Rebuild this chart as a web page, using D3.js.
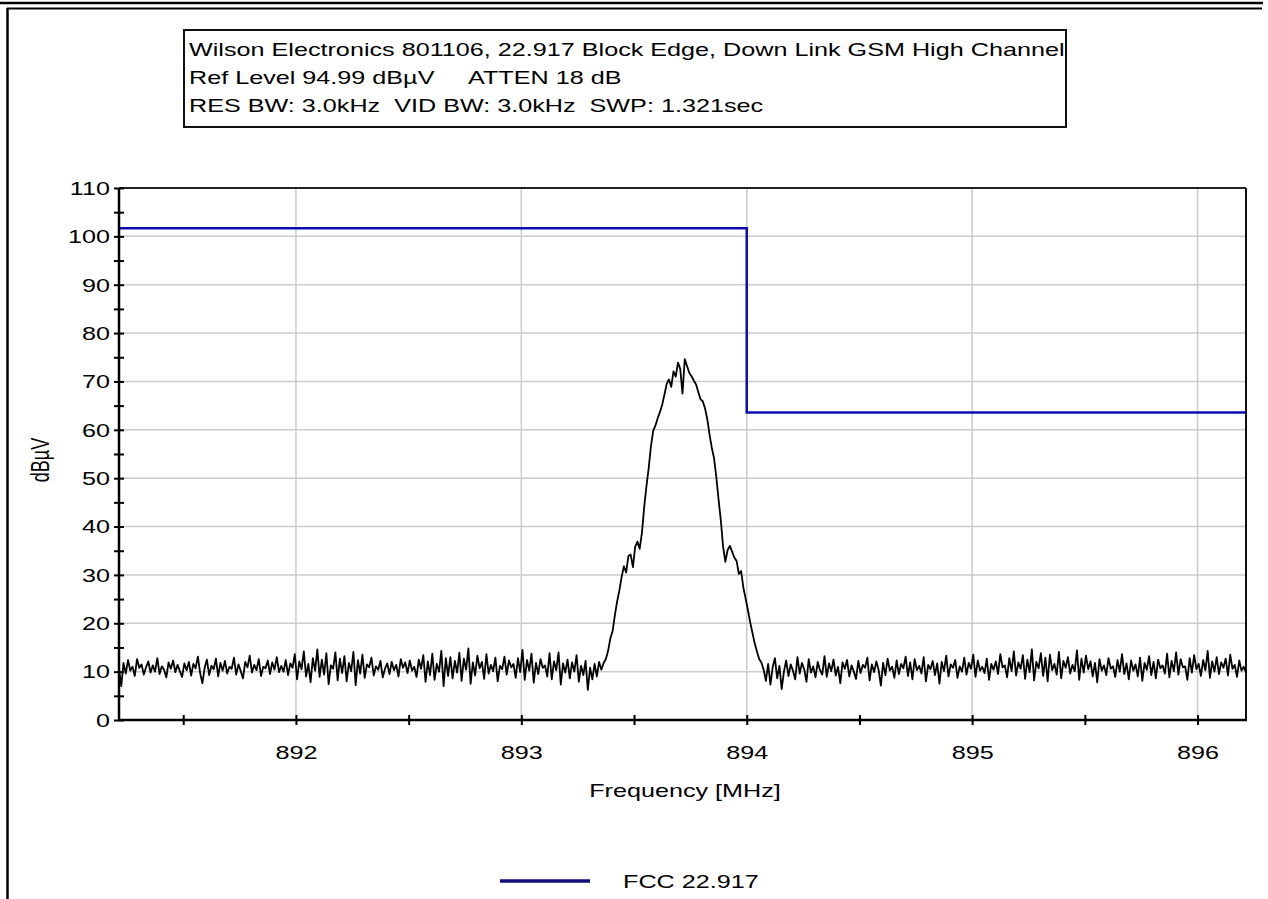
<!DOCTYPE html>
<html>
<head>
<meta charset="utf-8">
<script src="https://cdn.jsdelivr.net/npm/d3@7"></script>
<style>
  body { margin: 0; background: #fff; }
  svg { display: block; font-family: "Liberation Sans", Arial, sans-serif; }
  text { white-space: pre; }
</style>
</head>
<body>
<svg id="chart" width="1268" height="899"></svg>
<script>
// header box text
const titleLines = [
  "Wilson Electronics 801106, 22.917 Block Edge, Down Link GSM High Channel",
  "Ref Level 94.99 dB\u00b5V     ATTEN 18 dB",
  "RES BW: 3.0kHz  VID BW: 3.0kHz  SWP: 1.321sec"
];

// sweep: start / stop / step in MHz, levels in dBuV
const freqStart = 891.215;
const freqStop = 896.215;
const freqStep = 0.01;
const traceLevels = [
  // 891.215 ..
  10.5, 7.0, 11.8, 9.6, 12.4, 10.2, 11.0, 9.1, 12.6, 10.8,
  11.5, 9.4, 10.9, 12.1, 9.8, 11.3, 10.0, 12.8, 9.5, 11.1,
  10.4, 8.8, 11.9, 10.6, 12.3, 9.9, 11.4, 10.1, 8.9, 11.7,
  10.3, 12.0, 9.2, 11.6, 10.7, 13.1, 9.7, 7.6, 10.8, 12.5,
  9.3, 11.2, 10.5, 12.7, 9.0, 11.8, 10.2, 12.2, 9.6, 11.0,
  // 891.715 ..
  10.6, 12.9, 9.4, 11.5, 10.1, 8.6, 12.0, 10.9, 13.3, 9.8,
  11.4, 10.3, 12.6, 9.1, 11.0, 10.7, 12.3, 9.5, 11.9, 10.4,
  13.0, 9.9, 11.2, 10.0, 12.4, 9.3, 11.7, 10.8, 13.6, 8.4,
  12.1, 10.5, 14.2, 9.0, 11.6, 7.8, 12.8, 10.2, 14.6, 8.9,
  12.5, 9.4, 13.8, 7.4, 11.3, 10.6, 14.0, 8.2, 12.7, 9.7,
  // 892.215 ..
  13.2, 8.0, 11.8, 10.1, 14.1, 7.2, 12.4, 9.6, 13.5, 8.7,
  11.5, 10.9, 12.9, 9.2, 11.1, 10.4, 12.2, 8.8, 10.6, 11.7,
  9.5, 12.0, 10.3, 11.4, 9.0, 12.6, 10.8, 11.9, 9.7, 12.3,
  10.2, 11.0, 8.9, 12.5, 10.6, 13.4, 7.9, 12.1, 9.3, 13.7,
  8.3, 11.6, 10.0, 14.3, 7.0, 12.8, 9.1, 13.0, 8.6, 12.2,
  // 892.715 ..
  9.8, 13.9, 8.1, 12.7, 10.4, 14.8, 7.5, 11.9, 9.2, 13.3,
  10.7, 12.0, 8.5, 13.6, 9.6, 11.4, 10.1, 12.9, 8.0, 11.2,
  10.5, 13.1, 9.4, 12.3, 10.9, 11.6, 8.7, 12.8, 9.9, 14.5,
  8.3, 12.4, 10.2, 13.7, 7.7, 11.8, 9.5, 12.6, 10.8, 11.3,
  9.0, 13.8, 8.4, 12.1, 10.3, 14.0, 7.3, 11.7, 9.8, 12.5,
  // 893.215 ..
  8.6, 11.9, 10.0, 13.4, 7.9, 11.2, 9.3, 12.2, 6.2, 10.8,
  8.4, 11.6, 9.0, 12.0, 10.4,
  // 893.365 .. carrier
  11.8, 12.6, 14.3, 16.9, 18.4, 21.7, 24.5, 26.8, 29.6, 31.8,
  30.5, 33.9, 34.2, 31.6, 35.8, 36.9, 35.4, 38.7, 44.0, 48.3,
  52.1, 56.6, 59.8, 60.9, 62.4, 63.7, 65.2, 67.3, 69.5, 70.4,
  68.9, 72.1, 71.0, 73.9, 72.6, 67.5, 74.6, 73.2, 71.8, 71.1,
  70.2, 69.4, 67.8, 66.3, 65.9, 64.4, 62.2, 59.0, 56.3, 54.1,
  50.2, 45.6, 41.3, 35.9, 32.7, 35.1, 36.0, 34.8, 33.6, 32.9,
  30.2, 30.8, 27.4, 25.1, 22.8, 20.3, 18.1, 15.9, 14.2, 12.6,
  11.9,
  // 894.075 ..
  10.4, 8.1, 11.6, 7.3, 10.9, 12.8, 8.6, 11.2, 6.4, 10.0,
  12.3, 9.1, 11.5, 10.2, 8.4, 13.0, 9.6, 11.8, 10.5, 7.9,
  12.6, 9.8, 11.1, 8.8, 12.0, 10.3, 9.4, 13.2, 8.9, 11.7,
  10.1, 12.5, 9.2, 11.0, 7.6, 11.9, 10.6, 12.4, 9.0, 11.3,
  10.0, 8.5, 12.2, 9.7, 11.4, 10.8, 12.9, 8.2, 11.5, 9.9,
  12.1, 10.4, 7.1, 11.8, 9.3, 12.7, 10.2, 11.0, 8.7, 12.3,
  9.5, 11.6, 10.7, 13.1,
  // 894.715 ..
  9.1, 11.9, 8.4, 12.6, 10.3, 11.2, 9.6, 13.0, 8.0, 11.4,
  10.5, 12.2, 9.3, 11.7, 7.5, 12.0, 10.1, 13.3, 9.0, 11.5,
  10.8, 12.4, 8.7, 11.1, 10.0, 12.9, 9.4, 11.8, 10.6, 13.5,
  8.9, 12.3, 10.2, 11.0, 9.7, 12.7, 8.3, 11.6, 10.4, 12.1,
  9.5, 13.6, 10.9, 11.3, 8.8, 12.8, 10.1, 14.2, 9.2, 11.9,
  // 895.215 ..
  10.6, 13.4, 8.5, 12.5, 9.9, 14.6, 8.2, 12.0, 10.7, 13.8,
  9.1, 12.9, 8.0, 13.5, 10.3, 11.6, 9.4, 14.1, 8.6, 12.2,
  10.8, 13.0, 9.6, 11.4, 10.1, 14.4, 8.3, 12.7, 9.8, 13.3,
  10.5, 12.1, 9.0, 11.8, 7.8, 12.6, 10.2, 11.3, 9.3, 12.8,
  10.6, 11.1, 8.9, 12.4, 10.0, 13.6, 9.5, 11.7, 8.4, 12.3,
  // 895.715 .. 896.215
  10.2, 11.5, 9.0, 12.9, 8.1, 11.8, 10.4, 13.2, 9.3, 12.0,
  8.6, 12.5, 10.7, 11.3, 9.6, 13.7, 8.8, 12.2, 10.1, 14.0,
  9.4, 12.6, 10.9, 11.1, 8.3, 12.8, 9.8, 13.4, 10.5, 11.6,
  9.1, 12.4, 10.3, 14.3, 8.7, 12.1, 10.0, 13.0, 9.5, 11.9,
  10.8, 12.7, 9.2, 13.5, 10.6, 11.4, 8.9, 12.3, 10.2, 11.0, 9.8
];

// FCC 22.917 limit mask
const limitFreqs = [891.215, 894.0, 894.0, 896.215];
const limitLevels = [101.7, 101.7, 63.6, 63.6];

const xLabelTicks = [892, 893, 894, 895, 896];
const xAllTicks = [891.5, 892, 892.5, 893, 893.5, 894, 894.5, 895, 895.5, 896];
const yLabelTicks = [0, 10, 20, 30, 40, 50, 60, 70, 80, 90, 100, 110];
const yAllTicks = d3.range(0, 111, 5);

const legendLabel = "FCC 22.917";
const xTitle = "Frequency [MHz]";
const yTitle = "dB\u00b5V";

// ---- layout
const svg = d3.select("#chart");
const plot = {left: 119, right: 1246, top: 188, bottom: 720};
const SX = 1.4;   // the source picture is stretched sideways
const fs = 18;
const limitColor = "#0c0cb0";

const x = d3.scaleLinear().domain([freqStart, freqStop]).range([plot.left, plot.right]);
const y = d3.scaleLinear().domain([0, 110]).range([plot.bottom, plot.top]);

function label(g, px, py, str, anchor) {
  return g.append("text")
    .attr("transform", `translate(${px},${py}) scale(${SX},1)`)
    .attr("text-anchor", anchor || "start")
    .attr("dy", "0.35em")
    .attr("font-size", fs)
    .attr("fill", "#000")
    .text(str);
}

// page frame
svg.append("line").attr("x1", 0).attr("x2", 1263).attr("y1", 3).attr("y2", 3)
  .attr("stroke", "#000").attr("stroke-width", 2.5);
svg.append("line").attr("x1", 7).attr("x2", 1262).attr("y1", 8.5).attr("y2", 8.5)
  .attr("stroke", "#000").attr("stroke-width", 2);
svg.append("line").attr("x1", 7.5).attr("x2", 7.5).attr("y1", 8).attr("y2", 899)
  .attr("stroke", "#000").attr("stroke-width", 2.5);

// header box
svg.append("rect").attr("x", 184).attr("y", 30).attr("width", 882).attr("height", 97)
  .attr("fill", "#fff").attr("stroke", "#111").attr("stroke-width", 2);
titleLines.forEach((t, i) => label(svg, 189, 50 + i * 28, t));

// grid
const grid = svg.append("g").attr("stroke", "#cbcbcb").attr("stroke-width", 1.5);
grid.selectAll(".gx").data(xLabelTicks).join("line")
  .attr("x1", d => x(d)).attr("x2", d => x(d))
  .attr("y1", plot.top).attr("y2", plot.bottom);
grid.selectAll(".gy").data(yLabelTicks.slice(1, -1)).join("line")
  .attr("x1", plot.left).attr("x2", plot.right)
  .attr("y1", d => y(d)).attr("y2", d => y(d));

// frame of the plot
svg.append("line").attr("x1", plot.left).attr("x2", plot.right).attr("y1", plot.top).attr("y2", plot.top)
  .attr("stroke", "#222").attr("stroke-width", 2);
svg.append("line").attr("x1", plot.right).attr("x2", plot.right).attr("y1", plot.top).attr("y2", plot.bottom)
  .attr("stroke", "#111").attr("stroke-width", 2);

// limit line
const limitData = limitFreqs.map((f, i) => [f, limitLevels[i]]);
svg.append("path").datum(limitData)
  .attr("fill", "none").attr("stroke", limitColor).attr("stroke-width", 2.5)
  .attr("d", d3.line().x(d => x(d[0])).y(d => y(d[1])));

// measured trace
const trace = traceLevels.map((v, i) => [freqStart + i * freqStep, v]);
svg.append("path").datum(trace)
  .attr("fill", "none").attr("stroke", "#000").attr("stroke-width", 1.8)
  .attr("stroke-linejoin", "round")
  .attr("d", d3.line().x(d => x(d[0])).y(d => y(d[1])));

// x axis
const gx = svg.append("g").attr("transform", `translate(0,${plot.bottom})`)
  .call(d3.axisBottom(x).tickValues(xAllTicks).tickSizeOuter(0)
    .tickFormat(d => xLabelTicks.includes(d) ? d : ""));
gx.select(".domain").remove();
gx.selectAll(".tick line").attr("y1", -5).attr("y2", 5).attr("stroke", "#000").attr("stroke-width", 2);
gx.selectAll(".tick text")
  .attr("y", null).attr("dy", "0.35em")
  .attr("transform", `translate(0,33) scale(${SX},1)`)
  .attr("font-size", fs).attr("fill", "#000").attr("font-family", null);
svg.append("line").attr("x1", plot.left - 1).attr("x2", plot.right + 1)
  .attr("y1", plot.bottom).attr("y2", plot.bottom)
  .attr("stroke", "#000").attr("stroke-width", 2.5);

// y axis
const gy = svg.append("g").attr("transform", `translate(${plot.left},0)`)
  .call(d3.axisLeft(y).tickValues(yAllTicks).tickSizeOuter(0)
    .tickFormat(d => yLabelTicks.includes(d) ? d : ""));
gy.select(".domain").remove();
gy.selectAll(".tick line").attr("x1", -5).attr("x2", 5).attr("stroke", "#000").attr("stroke-width", 2);
gy.selectAll(".tick text")
  .attr("x", null).attr("dy", "0.35em")
  .attr("transform", `translate(-9,0) scale(${SX},1)`)
  .attr("font-size", fs).attr("fill", "#000").attr("font-family", null);
svg.append("line").attr("x1", plot.left).attr("x2", plot.left)
  .attr("y1", plot.top).attr("y2", plot.bottom + 1)
  .attr("stroke", "#000").attr("stroke-width", 2.5);

// axis titles
label(svg, 685, 791, xTitle, "middle");
svg.append("text")
  .attr("transform", `translate(40,460) scale(${SX},1) rotate(-90)`)
  .attr("text-anchor", "middle").attr("dy", "0.35em")
  .attr("font-size", fs).attr("fill", "#000")
  .text(yTitle);

// legend
svg.append("line").attr("x1", 500).attr("x2", 590).attr("y1", 881).attr("y2", 881)
  .attr("stroke", "#10107a").attr("stroke-width", 3.5);
label(svg, 623, 882, legendLabel);
</script>
</body>
</html>
